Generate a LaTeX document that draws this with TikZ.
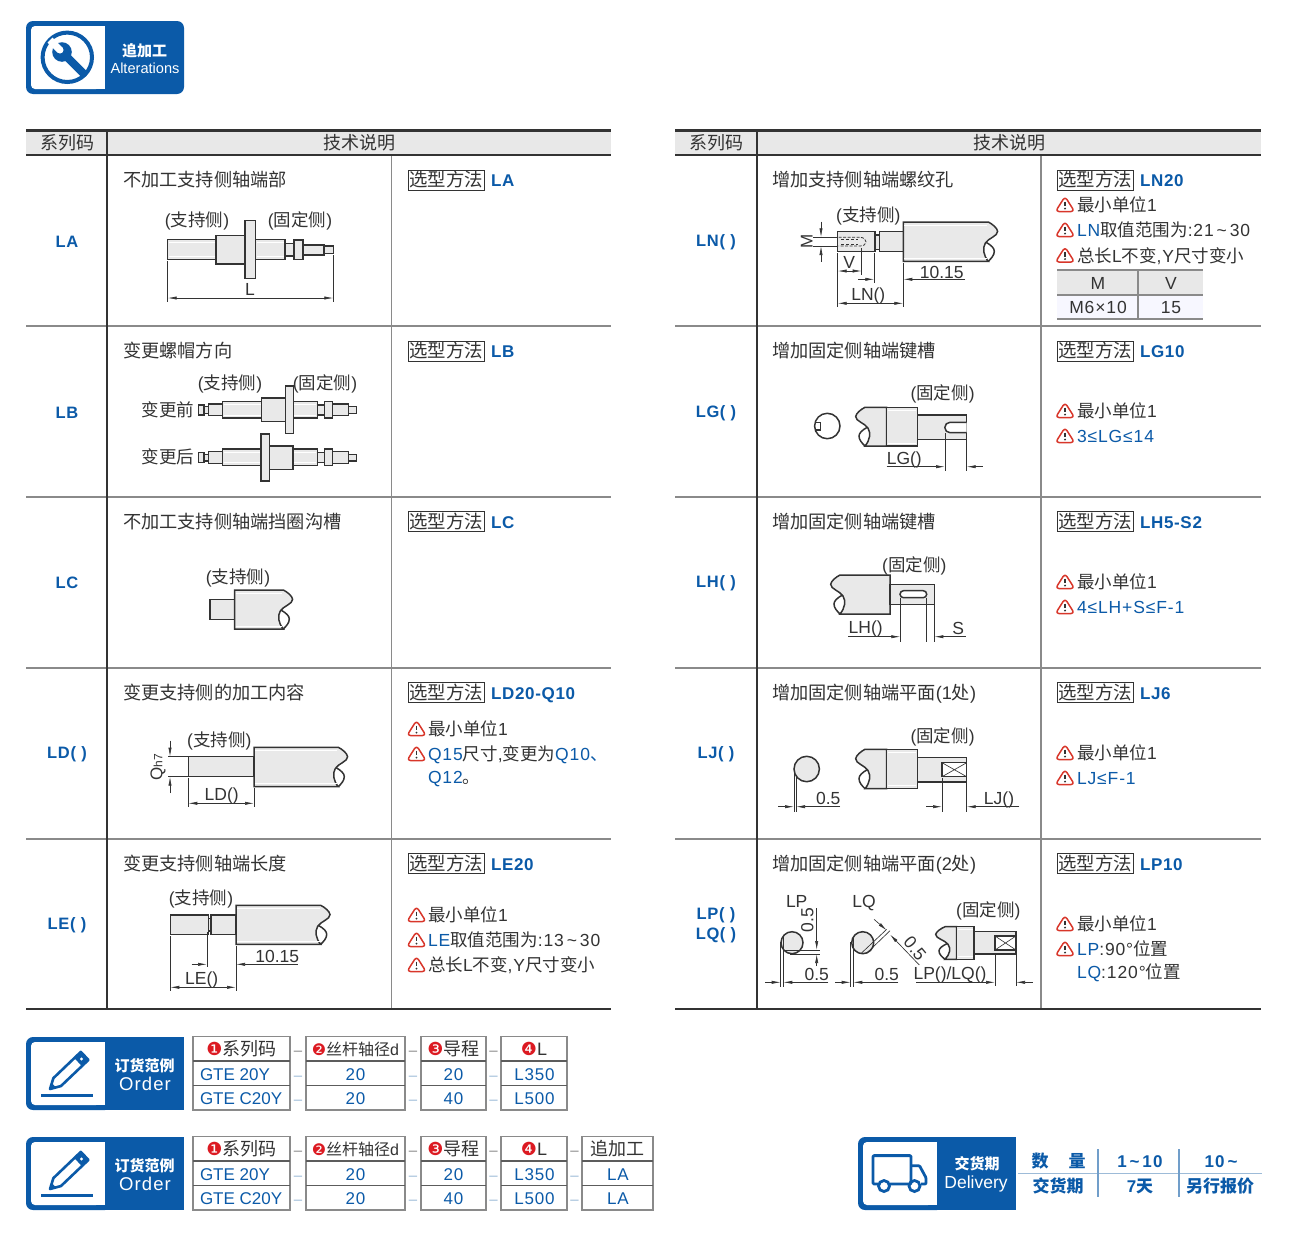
\documentclass[tikz,border=0pt]{standalone}
\usepackage{fontspec}
\usetikzlibrary{arrows.meta}
\setmainfont{Liberation Sans}
\newfontfamily\cjk{Noto Sans CJK SC}
\newfontfamily\djv{DejaVu Sans}
\newcommand\zh[1]{{\cjk #1}}
\newcommand\fs[1]{\fontsize{#1}{#1}\selectfont}
\newcommand\tld{\textasciitilde}
\definecolor{mb}{HTML}{0B5AA8}
\definecolor{tk}{HTML}{333333}
\definecolor{hd}{HTML}{E8E8E8}
\definecolor{ln}{HTML}{8A8A8A}
\definecolor{pf}{HTML}{E9E9E9}
\definecolor{wr}{HTML}{D8362A}
\definecolor{rd}{HTML}{DC1A22}
\definecolor{lb}{HTML}{9DBBD8}
\newcount\nc
\newcommand\T[3][]{\global\advance\nc by 1 \node[txt,#1] (t\the\nc) at (#2) {#3};}
\newcommand\Tl[3][]{\T[anchor=base west,#1]{#2}{#3}}
\newcommand\N[2]{\Tl[font=\fs{17.5}\addfontfeature{LetterSpace=5}]{#1}{#2}}
\newcommand\Tk[2]{\T[font=\fs{17.5}\addfontfeature{LetterSpace=5}]{#1}{#2}}
\newcommand\B[1]{\textcolor{mb}{#1}}
\newcommand\warn[2]{%
 \draw[wr,line width=1.5pt,rounded corners=3.4pt,line join=round] (#1,#2-8.5) -- (#1-9.5,#2+6.5) -- (#1+9.5,#2+6.5) -- cycle;
 \draw[tk,line width=1.8pt] (#1,#2-3.5) -- (#1,#2+1.2);
 \fill[tk] (#1,#2+3.6) circle (1.1pt);}
\newcommand\cyl[4]{\filldraw[part] (#1,#2) rectangle (#3,#4);}
\newcommand\hls[3]{\draw[hl] (#1,#3+3) -- (#2,#3+3);}
\newcommand\hlb[3]{\draw[hl] (#1,#3-3) -- (#2,#3-3);}
\newcommand\cyls[4]{\cyl{#1}{#2}{#3}{#4}\hls{#1+1}{#3-1}{#2}\hlb{#1+1}{#3-1}{#4}}
\newcommand\brk[5]{\begin{scope}[shift={(#1,#2)},xscale=#3,yscale=#5/39]
 \filldraw[part] (-#4,0) -- (0,0) .. controls (4,2) and (9,6) .. (9.3,9.3) .. controls (9.5,14) and (0,16) .. (-3,21) .. controls (-6,26) and (-5,33) .. (0,39) -- (-#4,39) -- cycle;
 \draw[part,fill=none] (-2.5,20) .. controls (3,23) and (6,26) .. (6,29) .. controls (6,33) and (3,36) .. (0,39);
\end{scope}}
\newcommand\brks[5]{\brk{#1}{#2}{#3}{#4}{#5}\begin{scope}[shift={(#1,#2)},xscale=#3,yscale=#5/39]
 \draw[hl] (-#4+1,3) -- (-1,3); \draw[hl] (-#4+1,36) -- (-1,36);\end{scope}}
\newcommand\sel[3]{\draw[tk,line width=.9pt] (#1,#2-10) rectangle (#1+76,#2+10);
 \T[font=\fs{18.4}]{#1+38,#2}{\zh{选型方法}}\Tl[font=\fs{17}\bfseries\addfontfeature{LetterSpace=4},text=mb]{#1+83,#2}{#3}}
\newcommand\ttl[3]{\Tl[font=\fs{18.2}]{#1,#2}{\zh{#3}}}
\newcommand\lab[2]{\T{#1}{(\zh{#2})}}
\newcommand\code[2]{\T[font=\fs{16.5}\bfseries\addfontfeature{LetterSpace=4},text=mb]{#1}{#2}}
\newcommand\tabl[4]{% x0,x1,x2,x3
 \fill[hd] (#1,131) rectangle (#4,154);
 \draw[ln,line width=1.1pt] (#1,326) -- (#4,326) (#1,497) -- (#4,497) (#1,668) -- (#4,668) (#1,839) -- (#4,839);
 \draw[ln,line width=1.1pt] (#3,155) -- (#3,1009);
 \draw[thk] (#1,130.5) -- (#4,130.5);
 \draw[thk] (#1,155) -- (#4,155);
 \draw[thk] (#1,1009) -- (#4,1009);
 \draw[thk,line width=2pt] (#2,130) -- (#2,1009);}
\newcommand\logobox{%
 \fill[mb,rounded corners=7pt] (105,0) -- (26,0) -- (26,73) -- (105,73);
 \fill[mb] (100,0) rectangle (184,73);
 \fill[white,rounded corners=4pt] (31,5) rectangle (100,68);
 \fill[white] (90,5) rectangle (105,68);}
\newcommand\orderlogo{%
 \begin{scope}[shift={(0,1037)}]\logobox
 \draw[mb,line width=2.6pt,line join=round] (50,52) -- (61,49) -- (88.4,22.9) -- (80.8,14.9) -- (53.4,41.1) -- cycle;
 \fill[mb] (81.9,29.1) -- (74.3,21.1) -- (80.8,14.9) -- (88.4,22.9) -- cycle;
 \fill[white] (81.5,22) circle (1.7pt);
 \fill[mb] (50,52) -- (56,50.3) -- (51.7,45.9) -- cycle;
 \fill[mb] (41,56.8) rectangle (93,60.2);
 \T[font=\fs{15}\bfseries,text=white]{144.5,28}{\zh{订货范例}}
 \T[font=\fs{18.5}\addfontfeature{LetterSpace=6},text=white]{145,47}{Order}
 \end{scope}}
\newcommand\ordcol[3]{% x0,x1,head
 \draw[line width=1.1pt,draw=ln] (#1,1036.5) rectangle (#2,1110);
 \draw[line width=1.1pt,draw=tk!80] (#1,1061) -- (#2,1061) (#1,1085.5) -- (#2,1085.5);
 \T[font=\fs{18}]{#1/2+#2/2,1049}{#3}}
\newcommand\ordval[3]{\T[font=\fs{17}\addfontfeature{LetterSpace=5},text=mb]{#1,1073.5}{#2}\T[font=\fs{17}\addfontfeature{LetterSpace=5},text=mb]{#1,1098}{#3}}
\newcommand\dsh[1]{\T[font=\fs{15},text=ln]{#1,1049}{–}\T[font=\fs{15},text=lb]{#1,1073.5}{–}\T[font=\fs{15},text=lb]{#1,1098}{–}}
\newcommand\num[2]{\textcolor{rd}{\djv #1}#2}
\newcommand\ordbase{%
 \ordcol{193}{290}{\num{❶}{\zh{系列码}}}
 \Tl[font=\fs{17},text=mb]{200,1073.5}{GTE 20Y}\Tl[font=\fs{17},text=mb]{200,1098}{GTE C20Y}\dsh{298}
 \ordcol{306}{405}{\fs{16}\num{❷}{\zh{丝杆轴径}d}} \ordval{355.5}{20}{20}\dsh{413}
 \ordcol{421}{486}{\num{❸}{\zh{导程}}} \ordval{453.5}{20}{40}\dsh{493.5}
 \ordcol{501}{567}{\num{❹}{L}} \ordval{534.5}{L350}{L500}}
\tikzset{
 txt/.style={inner sep=0pt,outer sep=0pt,text=tk,font=\fs{17.5},anchor=base,yshift=-6.6pt},
 part/.style={draw=tk,fill=pf,line width=1.5pt,line join=miter},
 hl/.style={draw=white,line width=.9pt},
 thk/.style={draw=tk,line width=2.4pt},
 ex/.style={draw=tk,line width=.65pt},
 da/.style={draw=tk,line width=.65pt,-{Latex[length=9pt,width=3.2pt]}},
 dd/.style={draw=tk,line width=.65pt,{Latex[length=9pt,width=3.2pt]}-{Latex[length=9pt,width=3.2pt]}},
}
\begin{document}
\begin{tikzpicture}[x=1pt,y=-1pt]
\useasboundingbox (0,0) rectangle (1300,1253);
\fill[white] (0,0) rectangle (1300,1253);
% header logo
\begin{scope}[shift={(0,21)}]
 \fill[mb,rounded corners=7pt] (26,0) rectangle (184,73);
 \fill[white,rounded corners=4pt] (31,5) rectangle (100,68);
 \fill[white] (90,5) rectangle (105,68);
 \draw[mb,line width=4pt] (67.3,36.3) circle (24.7pt);
 \begin{scope}
  \clip (67.3,36.3) circle (24pt);
  \draw[mb,line width=8pt] (62,31) -- (90,59);
 \end{scope}
 \fill[mb] (62,31) circle (9.8pt);
 \fill[white] (62.5,26.5) -- (57.5,31.5) -- (47.5,21.5) -- (52.5,16.5) -- cycle;
 \fill[white] (60,29) circle (3.5pt);
 \T[font=\fs{15}\bfseries,text=white]{144.5,29}{\zh{追加工}}
 \T[font=\fs{14.6},text=white]{145,45.7}{Alterations}
\end{scope}
% tables
\tabl{26}{107}{391.5}{611}
\tabl{675}{756.5}{1041}{1261}
\T[font=\fs{18}]{67,143}{\zh{系列码}}\T[font=\fs{18}]{359,143}{\zh{技术说明}}
\T[font=\fs{18}]{716,143}{\zh{系列码}}\T[font=\fs{18}]{1009,143}{\zh{技术说明}}
\code{67,240.5}{LA}\code{67,411.5}{LB}\code{67,582}{LC}\code{67,752}{LD( )}\code{67,923}{LE( )}
\code{716,239.5}{LN( )}\code{716,410.5}{LG( )}\code{716,581}{LH( )}\code{716,752}{LJ( )}
\code{716,912.5}{LP( )}\code{716,932.5}{LQ( )}
% titles
\ttl{123}{180}{不加工支持侧轴端部}
\ttl{123}{351}{变更螺帽方向}
\ttl{123}{521.5}{不加工支持侧轴端挡圈沟槽}
\ttl{123}{692.5}{变更支持侧的加工内容}
\ttl{123}{863.5}{变更支持侧轴端长度}
\ttl{772}{180}{增加支持侧轴端螺纹孔}
\ttl{772}{351}{增加固定侧轴端键槽}
\ttl{772}{521.5}{增加固定侧轴端键槽}
\Tl[font=\fs{18.2}]{772,692.5}{\zh{增加固定侧轴端平面}(1\zh{处})}
\Tl[font=\fs{18.2}]{772,863.5}{\zh{增加固定侧轴端平面}(2\zh{处})}
% selection
\sel{408}{180}{LA}\sel{408}{351}{LB}\sel{408}{521.5}{LC}\sel{408}{692.5}{LD20-Q10}\sel{408}{863.5}{LE20}
\sel{1057}{180}{LN20}\sel{1057}{351}{LG10}\sel{1057}{521.5}{LH5-S2}\sel{1057}{692.5}{LJ6}\sel{1057}{863.5}{LP10}
% notes left
\warn{416.5}{729}\N{428,729}{\zh{最小单位}1}
\warn{416.5}{754}\N{428,754}{\B{Q15}\zh{尺寸},\zh{变更为}\B{Q10\zh{、}}}
\N{428,777}{\B{Q12}\zh{。}}
\warn{416.5}{915}\N{428,915}{\zh{最小单位}1}
\warn{416.5}{940}\N{428,940}{\B{LE}\zh{取值范围为}:13\,\tld\,30}
\warn{416.5}{965}\N{428,965}{\zh{总长}L\zh{不变},Y\zh{尺寸变小}}
% notes right
\warn{1065}{205}\N{1077,205}{\zh{最小单位}1}
\warn{1065}{230}\N{1077,230}{\B{LN}\zh{取值范围为}:21\,\tld\,30}
\warn{1065}{255.5}\N{1077,255.5}{\zh{总长}L\zh{不变},Y\zh{尺寸变小}}
\fill[hd] (1057,270) rectangle (1203,295);
\fill[blue!3] (1057,295) rectangle (1203,319);
\draw[ln,line width=1.1pt] (1057,270) -- (1203,270) (1057,295) -- (1203,295) (1057,319) -- (1203,319) (1138,270) -- (1138,319);
\Tk{1098,283}{M}\Tk{1171,283}{V}\Tk{1098,307}{M6×10}\Tk{1171,307}{15}
\warn{1065}{411}\N{1077,411}{\zh{最小单位}1}
\warn{1065}{436}\N{1077,436}{\B{3≤LG≤14}}
\warn{1065}{582}\N{1077,582}{\zh{最小单位}1}
\warn{1065}{607}\N{1077,607}{\B{4≤LH+S≤F-1}}
\warn{1065}{753}\N{1077,753}{\zh{最小单位}1}
\warn{1065}{778}\N{1077,778}{\B{LJ≤F-1}}
\warn{1065}{924}\N{1077,924}{\zh{最小单位}1}
\warn{1065}{949}\N{1077,949}{\B{LP}:90°\zh{位置}}
\N{1077,972}{\B{LQ}:120°\zh{位置}}
% LA drawing
\cyls{167.7}{239.5}{216}{259.5}
\cyls{255.7}{239.5}{285}{259.5}
\cyl{285}{243.3}{294}{256}
\cyl{294}{240}{303}{259.7}
\cyl{303}{245}{324}{255}
\cyl{324}{246}{333.3}{253.3}
\cyl{216}{235.5}{245}{264}
\cyl{245}{220.7}{255.7}{278.7}
\draw[ex] (167.7,261) -- (167.7,302) (333.3,255) -- (333.3,302);
\draw[dd] (167.7,298) -- (333.3,298);
\T{250,289}{L}\lab{197,220}{支持侧}\lab{300,220}{固定侧}
% LB drawing
\cyl{198.3}{405}{204}{415}\cyl{204}{406.7}{208.3}{413.3}\cyl{208.3}{404}{222.7}{415.7}
\cyls{222.7}{401.3}{261.7}{418}\cyl{261.7}{398}{285.7}{421.3}\cyl{285.7}{386}{293.3}{433.3}
\cyls{293.3}{401.3}{317.3}{418}\cyl{317.3}{405}{324.3}{415}\cyl{324.3}{401.3}{332.3}{418}
\cyl{332.3}{404}{348.7}{415.7}\cyl{348.7}{406.7}{356.7}{413.3}
\cyl{198.3}{452.7}{204}{462.7}\cyl{204}{454.4}{208.3}{461}\cyl{208.3}{451.7}{222.7}{463.4}
\cyls{222.7}{449}{261}{465.7}\cyl{269.3}{446}{293}{469.3}\cyl{261}{434}{269.3}{481}
\cyls{293}{449}{317.3}{465.7}\cyl{317.3}{452.7}{324.3}{462.7}\cyl{324.3}{449}{332.3}{465.7}
\cyl{332.3}{451.7}{348.7}{463.4}\cyl{348.7}{454.4}{356.7}{461}
\lab{230,383}{支持侧}\lab{325,383}{固定侧}\T{168,410}{\zh{变更前}}\T{168,457}{\zh{变更后}}
% LC
\cyl{210}{599.3}{234.7}{619.3}
\brks{283.3}{590}{1}{48.6}{39}
\lab{238,576.5}{支持侧}
% LD
\cyl{188.3}{756.7}{254}{776.7}
\brks{338.3}{747.3}{1}{84.3}{39.4}
\draw[ex] (168,756.7) -- (188,756.7) (168,776.7) -- (188,776.7) (188.3,778) -- (188.3,807) (254,788) -- (254,807);
\draw[da] (170,740.7) -- (170,756.7);
\draw[da] (170,793) -- (170,776.7);
\draw[dd] (188.3,803.3) -- (254,803.3);
\node[inner sep=0pt,text=tk,rotate=90] (qh) at (158,767) {\fs{17}Q\fs{12}h7};
\T{221.7,794}{LD()}\lab{219.3,740}{支持侧}
% LE
\cyl{170.3}{915}{208.3}{934.7}\cyl{208.3}{918.3}{211}{931}\cyl{211}{915}{236}{934.7}
\brks{320.7}{905.3}{1}{84.7}{39}
\draw[ex] (170.3,936) -- (170.3,991) (207,932) -- (207,967.3) (236,946) -- (236,991);
\draw[da] (191.7,964.3) -- (207,964.3);
\draw[da] (297.7,964.3) -- (236,964.3);
\draw[dd] (170.3,987.3) -- (236,987.3);
\T{277.3,956}{10.15}\T{201.7,978}{LE()}\lab{201,898.3}{支持侧}
% LN
\cyl{837.7}{231.7}{875}{251.7}\cyl{875}{235}{879.3}{249.3}\cyl{879.3}{231.7}{903.3}{251.7}
\brks{988.3}{222}{1}{85}{39.3}
\draw[draw=tk,line width=.8pt,dashed,dash pattern=on 3pt off 1.5pt] (838.5,237.3) -- (860,237.3) .. controls (864,237.3) and (866,240) .. (866,241.7) .. controls (866,244) and (864,246) .. (860,246) -- (838.5,246);
\draw[draw=tk,line width=.7pt,dashed,dash pattern=on 3pt off 2pt] (841,239.5) -- (858,239.5) (841,244) -- (858,244);
\draw[ex] (813,237.3) -- (838,237.3) (813,246) -- (838,246);
\draw[da] (821,221.7) -- (821,237.3);
\draw[da] (821,261.7) -- (821,246);
\node[inner sep=0pt,text=tk,rotate=90,font=\fs{17}] (mm) at (806.7,241.7) {M};
\draw[ex] (861.7,248) -- (861.7,275) (837.7,253) -- (837.7,307) (874.3,253) -- (874.3,283) (903.3,263) -- (903.3,307);
\draw[dd] (837.7,271) -- (861.7,271);
\draw[da] (858.3,279.3) -- (874.3,279.3);
\draw[da] (965,279.3) -- (903.3,279.3);
\draw[dd] (837.7,303.3) -- (903.3,303.3);
\T{849.3,261.7}{V}\T{941.7,271.7}{10.15}\T{868.3,294.3}{LN()}\lab{868.3,215}{支持侧}
% LG
\draw[part,fill=white] (827.3,426) circle (12.7pt);
\draw[part,fill=none,line width=1.1pt] (815,422.3) -- (820.7,422.3) -- (820.7,430) -- (815,430);
\brk{865}{407.3}{-1}{21.7}{38.7}
\cyls{886.7}{407.3}{917.3}{446}
\cyl{917.3}{415}{966.7}{439.3}
\draw[part,fill=white] (966.7,422.3) -- (950,422.3) arc[start angle=90,end angle=270,radius=5.2pt] -- (966.7,432.7);
\draw[ex] (945,433) -- (945,470.7) (966.7,439.3) -- (966.7,470.7);
\draw[da] (886.7,466.7) -- (945,466.7);
\draw[da] (982.7,466.7) -- (966.7,466.7);
\T{904.3,457.7}{LG()}\lab{942.7,393.3}{固定侧}
% LH
\brk{840}{575}{-1}{50}{39}
\cyl{890}{584.3}{934.3}{604.3}
\draw[part,fill=white] (903.5,590.7) -- (923.2,590.7) arc[start angle=90,end angle=-90,radius=3.5pt] -- (903.5,597.7) arc[start angle=270,end angle=90,radius=3.5pt] -- cycle;
\draw[ex] (900.3,598) -- (900.3,641.7) (926,598) -- (926,641.7) (934.3,604) -- (934.3,641.7);
\draw[da] (848.3,636.7) -- (900.3,636.7);
\draw[da] (965.7,636.7) -- (934.3,636.7);
\T{865.7,626.7}{LH()}\T{958.3,628.3}{S}\lab{914.3,565}{固定侧}
% LJ
\draw[part] (806.7,769) circle (12.7pt);
\draw[ex] (794,769) -- (794,811.7) (796,775) -- (796,811.7);
\draw[da] (778.3,806.7) -- (794,806.7);
\draw[da] (840,806.7) -- (796,806.7);
\T{828.3,798.3}{0.5}
\brk{865}{749.3}{-1}{21.7}{39.4}
\cyls{886.7}{749.3}{917.3}{788.7}
\cyl{917.3}{757.3}{966.7}{782}
\draw[part,fill=white,line width=1.1pt] (942,762.7) rectangle (966.7,776.7);
\draw[ex] (942,762.7) -- (966.7,776.7) (942,776.7) -- (966.7,762.7);
\draw[ex] (942,778) -- (942,811.7) (966.7,783) -- (966.7,811.7);
\draw[da] (926,806.7) -- (942,806.7);
\draw[da] (1019.3,806.7) -- (966.7,806.7);
\T{999,797.7}{LJ()}\lab{942.7,736}{固定侧}
% LP
\T{796.7,901}{LP}\T{864,901}{LQ}
\draw[part] (792,942.7) circle (11pt);
\draw[part] (862.7,942.7) circle (11pt);
\draw[ex] (780.7,942) -- (780.7,986.7) (783.3,936) -- (783.3,986.7) (850.7,942) -- (850.7,986.7) (853.3,936) -- (853.3,986.7);
\draw[da] (765,982.3) -- (780.7,982.3);
\draw[da] (828.3,982.3) -- (783.3,982.3);
\draw[da] (835,982.3) -- (850.7,982.3);
\draw[da] (898.3,982.3) -- (853.3,982.3);
\T{816.7,974.3}{0.5}\T{886.7,974.3}{0.5}
\draw[ex] (785,950) -- (820,950) (790,954) -- (820,954);
\draw[da] (816.7,908.3) -- (816.7,950);
\draw[da] (816.7,966) -- (816.7,954);
\node[inner sep=0pt,text=tk,rotate=90,font=\fs{17.5}] (p5) at (807.3,920) {0.5};
\draw[ex] (861.5,953) -- (886.7,929.3) (866.5,953.3) -- (890,930.7);
\draw[da] (874,919.3) -- (886.7,930.3);
\draw[da] (919.3,965) -- (890,934.5);
\node[inner sep=0pt,text=tk,rotate=-50,font=\fs{17.5}] (q5) at (915,948.3) {0.5};
\brk{945}{926.7}{-1}{11.7}{32.6}
\cyls{956.7}{926.7}{974}{959.3}
\cyl{974}{931.7}{1016}{954}
\draw[part,fill=white,line width=1.1pt] (995,936) rectangle (1016,950);
\draw[ex] (995,936) -- (1016,950) (995,950) -- (1016,936);
\draw[ex] (995,955) -- (995,986) (1016,955) -- (1016,986);
\draw[da] (916,982.3) -- (995,982.3);
\draw[da] (1032.7,982.3) -- (1016,982.3);
\T{950,972.7}{LP()/LQ()}\lab{988.3,910}{固定侧}
% orders
\orderlogo \ordbase
\begin{scope}[shift={(0,100)}]
\orderlogo \ordbase \dsh{574.5}
\ordcol{582}{653}{\zh{追加工}}\ordval{618}{LA}{LA}
\end{scope}
% delivery
\begin{scope}[shift={(832,1137)}]\logobox\end{scope}
\draw[mb,line width=2.8pt,line join=round,rounded corners=1pt] (878,1184) -- (873,1184) -- (873,1155.6) -- (911,1155.6) -- (911,1184) -- (890,1184);
\draw[mb,line width=2.8pt,line join=round,rounded corners=1pt] (911,1165.7) -- (919.5,1165.7) -- (926,1177.7) -- (926,1184) -- (921,1184);
\draw[mb,line width=2.8pt] (884,1186) circle (5.5pt) (914.5,1186) circle (5.5pt);
\T[font=\fs{15}\bfseries,text=white]{977,1163}{\zh{交货期}}
\T[font=\fs{17.5},text=white]{976,1181.7}{Delivery}
\draw[lb,line width=1.2pt] (1018,1173.3) -- (1262,1173.3);
\draw[lb!70!mb,line width=1.2pt] (1098,1149) -- (1098,1197) (1179,1149) -- (1179,1197);
\T[font=\fs{17}\bfseries,text=mb]{1058.5,1161}{\zh{数\hspace{20pt}量}}
\T[font=\fs{17}\bfseries\addfontfeature{LetterSpace=7},text=mb]{1140,1161}{1\,\tld\,10}
\T[font=\fs{17}\bfseries\addfontfeature{LetterSpace=7},text=mb]{1221,1161}{10\,\tld}
\T[font=\fs{17}\bfseries,text=mb]{1058,1186}{\zh{交货期}}
\T[font=\fs{17}\bfseries,text=mb]{1140,1186}{7\zh{天}}
\T[font=\fs{17}\bfseries,text=mb]{1220,1186}{\zh{另行报价}}
\end{tikzpicture}
\end{document}
